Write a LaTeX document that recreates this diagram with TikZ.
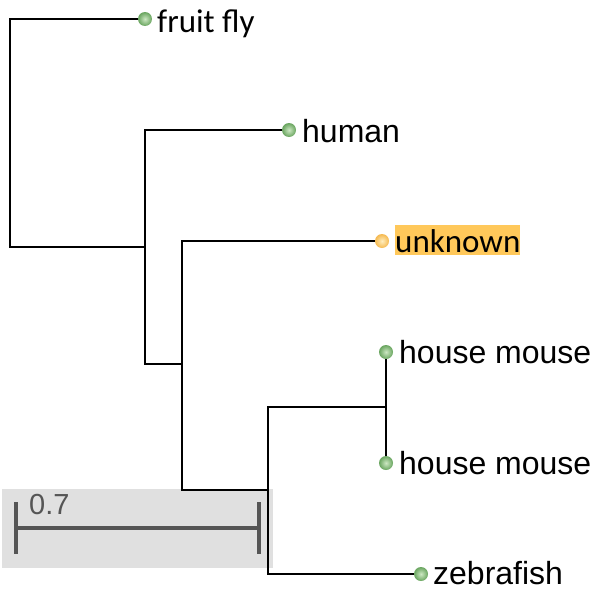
\documentclass[tikz,border=0pt]{standalone}
\usepackage{fontspec}
\setmainfont{Liberation Sans}
\newfontfamily\calib{Carlito}
\definecolor{hlcol}{RGB}{255,200,90}
\definecolor{barcol}{RGB}{85,85,85}
\definecolor{boxcol}{RGB}{224,224,224}
\definecolor{greenout}{RGB}{105,165,95}
\definecolor{greenin}{RGB}{205,232,195}
\definecolor{yellowout}{RGB}{245,185,80}
\definecolor{yellowin}{RGB}{255,238,190}
\tikzset{
  branch/.style={line width=2.8pt, black, line cap=rect},
  leafdot/.style={circle, inner sep=0pt, minimum size=14pt, shading=radial, inner color=greenin, outer color=greenout},
  qdot/.style={circle, inner sep=0pt, minimum size=14pt, shading=radial, inner color=yellowin, outer color=yellowout},
  arial/.style={anchor=base west, inner sep=0pt, font=\fontsize{32}{38}\selectfont},
  calibl/.style={anchor=base west, inner sep=0pt, font=\calib\fontsize{33}{38}\selectfont},
  scalebar/.style={line width=4pt, barcol},
}
\begin{document}
\begin{tikzpicture}[x=1pt,y=-1pt]
\useasboundingbox (0,0) rectangle (594,589);
% scale bar background
\fill[boxcol] (2,489) rectangle (273,568);
\coordinate (s1t) at (16,502); \coordinate (s1b) at (16,554);
\coordinate (s2t) at (259,502); \coordinate (s2b) at (259,554);
\coordinate (s1m) at (16,528); \coordinate (s2m) at (259,528);
\draw[scalebar] (s1t) -- (s1b);
\draw[scalebar] (s2t) -- (s2b);
\draw[scalebar] (s1m) -- (s2m);
\node[anchor=base west, inner sep=0pt, text=barcol, font=\fontsize{29}{34}\selectfont] (scl) at (29,514) {0.7};
% internal nodes
\coordinate (n0) at (10,132.5);
\coordinate (nA) at (145,247);
\coordinate (nB) at (182,364);
\coordinate (nC) at (268,490);
\coordinate (nD) at (386,407);
% leaf positions
\coordinate (ff) at (145,19);
\coordinate (hu) at (289,130);
\coordinate (un) at (382,241);
\coordinate (m1) at (386,352);
\coordinate (m2) at (386,463);
\coordinate (zf) at (421,574);
% branches
\draw[branch] (n0) |- (ff);
\draw[branch] (n0) |- (nA);
\draw[branch] (nA) |- (hu);
\draw[branch] (nA) |- (nB);
\draw[branch] (nB) |- (un);
\draw[branch] (nB) |- (nC);
\draw[branch] (nC) |- (nD);
\draw[branch] (nC) |- (zf);
\draw[branch] (nD) |- (m1);
\draw[branch] (nD) |- (m2);
% leaf dots
\node[leafdot] (dff) at (ff) {};
\node[leafdot] (dhu) at (hu) {};
\node[qdot] (dun) at (un) {};
\node[leafdot] (dm1) at (m1) {};
\node[leafdot] (dm2) at (m2) {};
\node[leafdot] (dzf) at (zf) {};
% labels
\node[calibl] (lff) at (157,32) {fruit fly};
\node[arial] (lhu) at (302,142) {human};
\node[calibl, fill=hlcol, text height=27pt, text depth=3pt] (lun) at (395,252) {unknown};
\node[arial] (lm1) at (399,363) {house mouse};
\node[arial] (lm2) at (399,474) {house mouse};
\node[arial] (lzf) at (433,584) {zebrafish};
\end{tikzpicture}
\end{document}
